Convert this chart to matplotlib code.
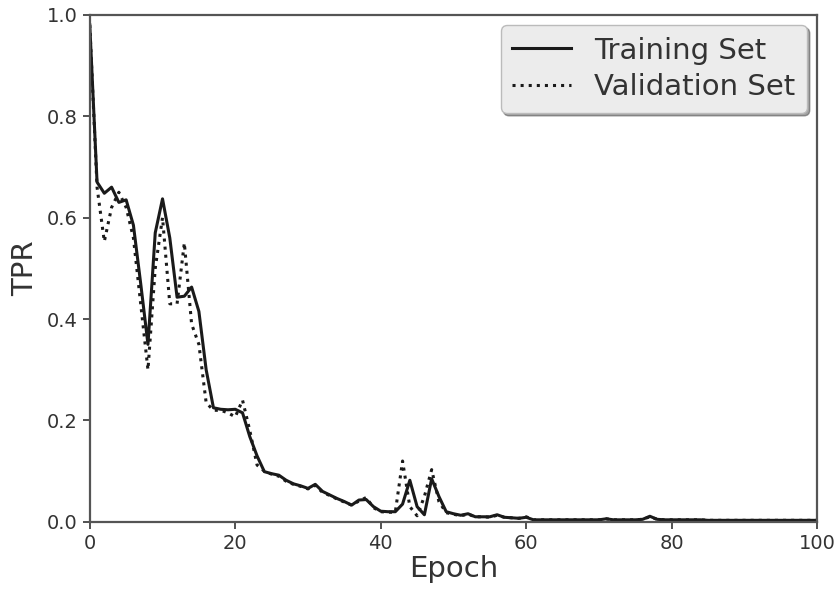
import numpy as np
import matplotlib
matplotlib.use("Agg")
import matplotlib.pyplot as plt

epochs = list(range(101))

# TPR on training set
train_tpr = [
    0.98, 0.670, 0.648, 0.660, 0.630, 0.635, 0.585, 0.470, 0.350, 0.570,   # 0-9
    0.637, 0.560, 0.443, 0.445, 0.463, 0.415, 0.300, 0.225, 0.222, 0.221,  # 10-19
    0.222, 0.215, 0.168, 0.130, 0.099, 0.095, 0.092, 0.082, 0.075, 0.071,  # 20-29
    0.066, 0.074, 0.060, 0.053, 0.046, 0.040, 0.033, 0.043, 0.044, 0.030,  # 30-39
    0.021, 0.020, 0.020, 0.035, 0.082, 0.030, 0.014, 0.085, 0.050, 0.020,  # 40-49
    0.016, 0.013, 0.016, 0.010, 0.010, 0.010, 0.014, 0.009, 0.008, 0.007,  # 50-59
    0.009, 0.004, 0.004, 0.004, 0.004, 0.004, 0.004, 0.004, 0.004, 0.004,  # 60-69
    0.004, 0.006, 0.004, 0.004, 0.004, 0.004, 0.005, 0.011, 0.005, 0.004,  # 70-79
    0.004, 0.004, 0.004, 0.004, 0.004, 0.003, 0.003, 0.003, 0.003, 0.003,  # 80-89
    0.003, 0.003, 0.003, 0.003, 0.003, 0.003, 0.003, 0.003, 0.003, 0.003,  # 90-99
    0.003,
]

# TPR on validation set
val_tpr = [
    0.98, 0.660, 0.553, 0.620, 0.650, 0.620, 0.560, 0.430, 0.300, 0.500,
    0.600, 0.430, 0.430, 0.550, 0.390, 0.350, 0.235, 0.220, 0.220, 0.215,
    0.207, 0.240, 0.180, 0.112, 0.100, 0.094, 0.090, 0.080, 0.074, 0.070,
    0.065, 0.072, 0.058, 0.052, 0.045, 0.039, 0.033, 0.041, 0.048, 0.028,
    0.020, 0.019, 0.019, 0.120, 0.030, 0.012, 0.050, 0.103, 0.040, 0.018,
    0.015, 0.012, 0.015, 0.010, 0.010, 0.009, 0.013, 0.009, 0.008, 0.007,
    0.010, 0.004, 0.004, 0.004, 0.004, 0.004, 0.004, 0.004, 0.004, 0.004,
    0.004, 0.006, 0.004, 0.004, 0.004, 0.004, 0.005, 0.010, 0.005, 0.004,
    0.004, 0.004, 0.004, 0.004, 0.004, 0.003, 0.003, 0.003, 0.003, 0.003,
    0.003, 0.003, 0.003, 0.003, 0.003, 0.003, 0.003, 0.003, 0.003, 0.003,
    0.003,
]

fig = plt.figure(figsize=(8.39, 5.91), dpi=100)
ax = fig.add_axes([0.107, 0.117, 0.867, 0.858])

ax.plot(epochs, train_tpr, color="#1a1a1a", lw=2.2, ls="-", label="Training Set")
ax.plot(epochs, val_tpr, color="#1a1a1a", lw=2.2, ls=":", label="Validation Set")

ax.set_xlim(0, 100)
ax.set_ylim(0, 1.0)
ax.set_xticks([0, 20, 40, 60, 80, 100])
ax.set_yticks([0.0, 0.2, 0.4, 0.6, 0.8, 1.0])
ax.tick_params(labelsize=14, colors="#333333", length=5, width=1.2)
for s in ax.spines.values():
    s.set_color("#555555")
    s.set_linewidth(1.6)

ax.set_xlabel("Epoch", fontsize=21, color="#333333", labelpad=2)
ax.set_ylabel("TPR", fontsize=21, color="#333333", labelpad=6)

leg = ax.legend(loc="upper right", fontsize=21, shadow=True, fancybox=True,
                handlelength=2.0, borderaxespad=0.35, labelspacing=0.3,
                borderpad=0.4)
leg.get_frame().set_facecolor("#ececec")
leg.get_frame().set_edgecolor("#bbbbbb")
for t in leg.get_texts():
    t.set_color("#333333")

plt.savefig("out.png", dpi=100)
